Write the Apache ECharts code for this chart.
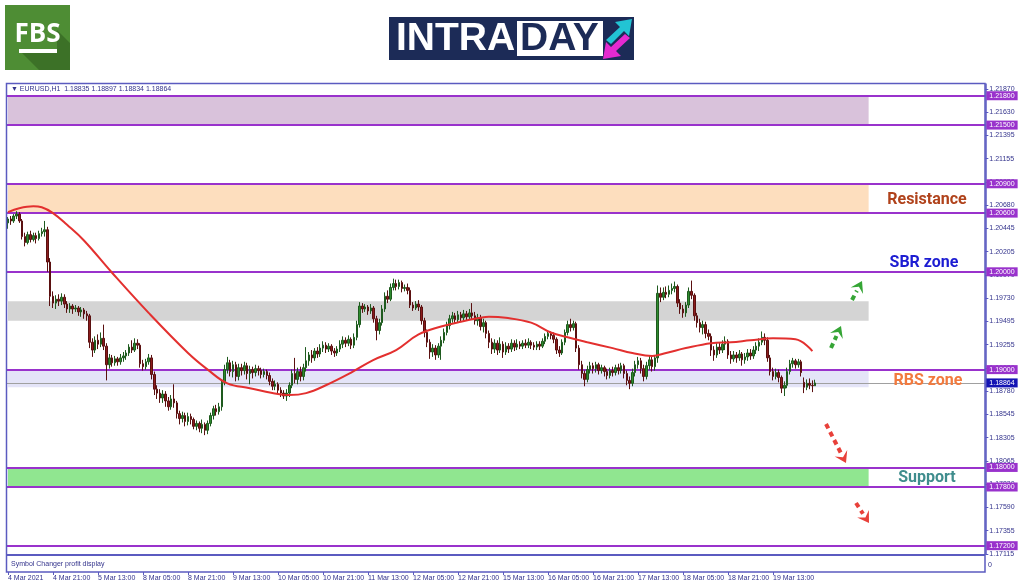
<!DOCTYPE html>
<html>
<head>
<meta charset="utf-8">
<title>EURUSD H1 intraday</title>
<script src="https://cdn.jsdelivr.net/npm/echarts@6/dist/echarts.min.js"></script>
<style>
  html, body { margin: 0; padding: 0; background: #fff; }
  #chart { width: 1024px; height: 587px; }
</style>
</head>
<body>
<div id="chart"></div>
<script>
// EURUSD H1, 4 Mar 05:00 .. 22 Mar 04:00
var opens = [
  1.2050,1.2054,1.2052,1.2057,1.2059,1.2052,1.2036,1.2030,1.2038,1.2033,1.2037,1.2034,
  1.2039,1.2041,1.2043,1.2010,1.1975,1.1968,1.1972,1.1970,1.1974,1.1967,1.1962,1.1965,
  1.1962,1.1963,1.1959,1.1961,1.1957,1.1955,1.1928,1.1920,1.1930,1.1926,1.1932,1.1924,
  1.1905,1.1912,1.1907,1.1911,1.1908,1.1912,1.1914,1.1917,1.1923,1.1920,1.1927,1.1925,
  1.1906,1.1903,1.1908,1.1912,1.1895,1.1880,1.1876,1.1871,1.1875,1.1868,1.1862,1.1870,
  1.1866,1.1855,1.1850,1.1853,1.1847,1.1852,1.1849,1.1842,1.1845,1.1840,1.1844,1.1838,
  1.1845,1.1853,1.1860,1.1857,1.1862,1.1887,1.1900,1.1907,1.1898,1.1905,1.1893,1.1902,
  1.1899,1.1904,1.1896,1.1900,1.1897,1.1901,1.1899,1.1895,1.1898,1.1894,1.1888,1.1883,
  1.1885,1.1879,1.1876,1.1873,1.1876,1.1884,1.1896,1.1890,1.1898,1.1893,1.1902,1.1909,
  1.1915,1.1912,1.1919,1.1916,1.1922,1.1925,1.1921,1.1924,1.1919,1.1917,1.1921,1.1926,
  1.1930,1.1927,1.1931,1.1925,1.1933,1.1946,1.1965,1.1962,1.1964,1.1960,1.1963,1.1952,
  1.1940,1.1948,1.1962,1.1975,1.1972,1.1984,1.1988,1.1985,1.1989,1.1983,1.1984,1.1981,
  1.1966,1.1963,1.1967,1.1964,1.1950,1.1938,1.1928,1.1918,1.1922,1.1915,1.1924,1.1930,
  1.1938,1.1945,1.1952,1.1955,1.1951,1.1956,1.1953,1.1957,1.1954,1.1958,1.1955,1.1950,
  1.1953,1.1944,1.1948,1.1937,1.1928,1.1921,1.1927,1.1920,1.1926,1.1918,1.1924,1.1921,
  1.1927,1.1923,1.1926,1.1924,1.1927,1.1925,1.1928,1.1925,1.1923,1.1926,1.1924,1.1929,
  1.1934,1.1937,1.1935,1.1931,1.1920,1.1917,1.1928,1.1938,1.1946,1.1943,1.1947,1.1922,
  1.1905,1.1896,1.1890,1.1900,1.1904,1.1901,1.1905,1.1899,1.1902,1.1898,1.1894,1.1899,
  1.1897,1.1902,1.1899,1.1904,1.1896,1.1889,1.1886,1.1897,1.1905,1.1909,1.1901,1.1893,
  1.1904,1.1910,1.1903,1.1912,1.1978,1.1974,1.1979,1.1977,1.1981,1.1983,1.1985,1.1968,
  1.1962,1.1958,1.1966,1.1980,1.1976,1.1955,1.1948,1.1943,1.1946,1.1937,1.1934,1.1920,
  1.1915,1.1923,1.1920,1.1926,1.1929,1.1915,1.1911,1.1915,1.1912,1.1916,1.1910,1.1913,
  1.1917,1.1914,1.1920,1.1924,1.1928,1.1933,1.1930,1.1912,1.1898,1.1893,1.1897,1.1892,
  1.1881,1.1884,1.1898,1.1906,1.1909,1.1905,1.1908,1.1887,1.1882,1.1886,1.1884,1.18835
];
var highs = [
  1.2056,1.2057,1.2059,1.2062,1.2061,1.2054,1.2040,1.2041,1.2042,1.2040,1.2040,1.2042,
  1.2045,1.2052,1.2046,1.2014,1.1980,1.1976,1.1977,1.1978,1.1977,1.1970,1.1968,1.1967,
  1.1966,1.1965,1.1964,1.1963,1.1960,1.1957,1.1932,1.1934,1.1936,1.1938,1.1946,1.1927,
  1.1916,1.1915,1.1914,1.1913,1.1916,1.1918,1.1920,1.1926,1.1930,1.1932,1.1931,1.1927,
  1.1910,1.1911,1.1916,1.1915,1.1898,1.1884,1.1880,1.1879,1.1878,1.1872,1.1874,1.1885,
  1.1868,1.1858,1.1857,1.1856,1.1856,1.1855,1.1851,1.1848,1.1847,1.1849,1.1846,1.1848,
  1.1856,1.1863,1.1864,1.1866,1.1890,1.1905,1.1913,1.1910,1.1909,1.1908,1.1906,1.1906,
  1.1908,1.1907,1.1904,1.1903,1.1905,1.1904,1.1902,1.1901,1.1900,1.1897,1.1891,1.1889,
  1.1887,1.1882,1.1879,1.1880,1.1887,1.1900,1.1912,1.1902,1.1903,1.1906,1.1923,1.1918,
  1.1920,1.1922,1.1923,1.1926,1.1929,1.1928,1.1927,1.1926,1.1922,1.1924,1.1930,1.1934,
  1.1933,1.1935,1.1933,1.1937,1.1950,1.1969,1.1968,1.1967,1.1966,1.1967,1.1965,1.1955,
  1.1952,1.1966,1.1979,1.1981,1.1988,1.1993,1.1992,1.1992,1.1991,1.1987,1.1988,1.1984,
  1.1969,1.1970,1.1971,1.1966,1.1953,1.1941,1.1931,1.1926,1.1925,1.1927,1.1934,1.1942,
  1.1949,1.1956,1.1959,1.1958,1.1960,1.1959,1.1961,1.1960,1.1962,1.1968,1.1959,1.1957,
  1.1956,1.1952,1.1950,1.1940,1.1932,1.1931,1.1930,1.1933,1.1929,1.1928,1.1927,1.1931,
  1.1930,1.1931,1.1929,1.1930,1.1931,1.1932,1.1930,1.1928,1.1929,1.1929,1.1932,1.1937,
  1.1940,1.1939,1.1938,1.1933,1.1924,1.1931,1.1941,1.1950,1.1952,1.1950,1.1949,1.1925,
  1.1909,1.1899,1.1904,1.1908,1.1907,1.1908,1.1907,1.1905,1.1904,1.1901,1.1902,1.1903,
  1.1905,1.1906,1.1907,1.1906,1.1899,1.1893,1.1901,1.1909,1.1913,1.1912,1.1905,1.1908,
  1.1914,1.1913,1.1914,1.1986,1.1984,1.1984,1.1985,1.1986,1.1988,1.1990,1.1987,1.1972,
  1.1966,1.1969,1.1984,1.1991,1.1978,1.1958,1.1952,1.1950,1.1949,1.1941,1.1937,1.1924,
  1.1927,1.1928,1.1930,1.1934,1.1931,1.1919,1.1919,1.1918,1.1920,1.1918,1.1917,1.1921,
  1.1921,1.1924,1.1928,1.1932,1.1939,1.1937,1.1933,1.1915,1.1902,1.1901,1.1900,1.1894,
  1.1888,1.1902,1.1910,1.1912,1.1911,1.1911,1.1910,1.1892,1.1890,1.1891,1.1889,1.18897
];
var lows = [
  1.2044,1.2048,1.2050,1.2054,1.2050,1.2033,1.2026,1.2028,1.2030,1.2031,1.2029,1.2032,
  1.2036,1.2036,1.2000,1.1965,1.1963,1.1962,1.1965,1.1966,1.1963,1.1958,1.1958,1.1957,
  1.1959,1.1955,1.1954,1.1952,1.1950,1.1922,1.1913,1.1917,1.1921,1.1923,1.1920,1.1889,
  1.1901,1.1903,1.1904,1.1904,1.1905,1.1908,1.1910,1.1914,1.1917,1.1918,1.1921,1.1902,
  1.1899,1.1900,1.1905,1.1890,1.1874,1.1870,1.1866,1.1866,1.1862,1.1858,1.1859,1.1861,
  1.1850,1.1844,1.1846,1.1842,1.1843,1.1844,1.1839,1.1838,1.1836,1.1835,1.1833,1.1834,
  1.1842,1.1849,1.1853,1.1854,1.1858,1.1884,1.1896,1.1893,1.1892,1.1888,1.1889,1.1894,
  1.1895,1.1890,1.1885,1.1891,1.1893,1.1894,1.1891,1.1892,1.1890,1.1884,1.1879,1.1879,
  1.1875,1.1872,1.1870,1.1868,1.1872,1.1881,1.1886,1.1885,1.1888,1.1889,1.1898,1.1904,
  1.1907,1.1909,1.1912,1.1913,1.1918,1.1917,1.1918,1.1915,1.1913,1.1914,1.1918,1.1922,
  1.1923,1.1924,1.1921,1.1922,1.1930,1.1943,1.1958,1.1959,1.1956,1.1957,1.1948,1.1930,
  1.1936,1.1945,1.1959,1.1968,1.1970,1.1981,1.1981,1.1982,1.1979,1.1980,1.1977,1.1963,
  1.1960,1.1961,1.1960,1.1946,1.1933,1.1923,1.1911,1.1913,1.1910,1.1912,1.1910,1.1927,
  1.1935,1.1941,1.1948,1.1947,1.1948,1.1949,1.1950,1.1950,1.1951,1.1951,1.1946,1.1945,
  1.1940,1.1938,1.1932,1.1922,1.1916,1.1917,1.1915,1.1917,1.1912,1.1915,1.1917,1.1918,
  1.1919,1.1920,1.1921,1.1921,1.1922,1.1922,1.1921,1.1920,1.1920,1.1920,1.1922,1.1926,
  1.1931,1.1931,1.1927,1.1916,1.1913,1.1915,1.1925,1.1935,1.1939,1.1940,1.1918,1.1900,
  1.1891,1.1883,1.1887,1.1896,1.1896,1.1897,1.1895,1.1896,1.1893,1.1890,1.1891,1.1893,
  1.1894,1.1895,1.1896,1.1891,1.1884,1.1880,1.1883,1.1893,1.1901,1.1896,1.1888,1.1890,
  1.1900,1.1898,1.1899,1.1907,1.1969,1.1971,1.1973,1.1974,1.1977,1.1979,1.1964,1.1957,
  1.1953,1.1954,1.1963,1.1972,1.1950,1.1943,1.1938,1.1936,1.1932,1.1930,1.1914,1.1909,
  1.1912,1.1916,1.1917,1.1920,1.1911,1.1906,1.1908,1.1907,1.1909,1.1904,1.1906,1.1909,
  1.1910,1.1911,1.1916,1.1919,1.1925,1.1925,1.1908,1.1894,1.1889,1.1890,1.1887,1.1876,
  1.1873,1.1881,1.1895,1.1902,1.1901,1.1902,1.1893,1.1876,1.1879,1.1880,1.1877,1.18834
];
var closes = [
  1.2054,1.2052,1.2057,1.2059,1.2052,1.2036,1.2030,1.2038,1.2033,1.2037,1.2034,1.2039,
  1.2041,1.2043,1.2010,1.1975,1.1968,1.1972,1.1970,1.1974,1.1967,1.1962,1.1965,1.1962,
  1.1963,1.1959,1.1961,1.1957,1.1955,1.1928,1.1920,1.1930,1.1926,1.1932,1.1924,1.1905,
  1.1912,1.1907,1.1911,1.1908,1.1912,1.1914,1.1917,1.1923,1.1920,1.1927,1.1925,1.1906,
  1.1903,1.1908,1.1912,1.1895,1.1880,1.1876,1.1871,1.1875,1.1868,1.1862,1.1870,1.1866,
  1.1855,1.1850,1.1853,1.1847,1.1852,1.1849,1.1842,1.1845,1.1840,1.1844,1.1838,1.1845,
  1.1853,1.1860,1.1857,1.1862,1.1887,1.1900,1.1907,1.1898,1.1905,1.1893,1.1902,1.1899,
  1.1904,1.1896,1.1900,1.1897,1.1901,1.1899,1.1895,1.1898,1.1894,1.1888,1.1883,1.1885,
  1.1879,1.1876,1.1873,1.1876,1.1884,1.1896,1.1890,1.1898,1.1893,1.1902,1.1909,1.1915,
  1.1912,1.1919,1.1916,1.1922,1.1925,1.1921,1.1924,1.1919,1.1917,1.1921,1.1926,1.1930,
  1.1927,1.1931,1.1925,1.1933,1.1946,1.1965,1.1962,1.1964,1.1960,1.1963,1.1952,1.1940,
  1.1948,1.1962,1.1975,1.1972,1.1984,1.1988,1.1985,1.1989,1.1983,1.1984,1.1981,1.1966,
  1.1963,1.1967,1.1964,1.1950,1.1938,1.1928,1.1918,1.1922,1.1915,1.1924,1.1930,1.1938,
  1.1945,1.1952,1.1955,1.1951,1.1956,1.1953,1.1957,1.1954,1.1958,1.1955,1.1950,1.1953,
  1.1944,1.1948,1.1937,1.1928,1.1921,1.1927,1.1920,1.1926,1.1918,1.1924,1.1921,1.1927,
  1.1923,1.1926,1.1924,1.1927,1.1925,1.1928,1.1925,1.1923,1.1926,1.1924,1.1929,1.1934,
  1.1937,1.1935,1.1931,1.1920,1.1917,1.1928,1.1938,1.1946,1.1943,1.1947,1.1922,1.1905,
  1.1896,1.1890,1.1900,1.1904,1.1901,1.1905,1.1899,1.1902,1.1898,1.1894,1.1899,1.1897,
  1.1902,1.1899,1.1904,1.1896,1.1889,1.1886,1.1897,1.1905,1.1909,1.1901,1.1893,1.1904,
  1.1910,1.1903,1.1912,1.1978,1.1974,1.1979,1.1977,1.1981,1.1983,1.1985,1.1968,1.1962,
  1.1958,1.1966,1.1980,1.1976,1.1955,1.1948,1.1943,1.1946,1.1937,1.1934,1.1920,1.1915,
  1.1923,1.1920,1.1926,1.1929,1.1915,1.1911,1.1915,1.1912,1.1916,1.1910,1.1913,1.1917,
  1.1914,1.1920,1.1924,1.1928,1.1933,1.1930,1.1912,1.1898,1.1893,1.1897,1.1892,1.1881,
  1.1884,1.1898,1.1906,1.1909,1.1905,1.1908,1.1897,1.1882,1.1886,1.1884,1.18835,1.18864
];

// moving average (red line), read at a few bars
var maBars = [0, 4, 9, 12, 16, 21, 27, 37, 50, 64, 71, 78, 86, 94, 100, 106, 113, 122, 130, 138,
  146, 154, 161, 168, 171, 177, 186, 193, 199, 206, 215, 222, 229, 234, 241, 250, 257, 264, 272, 280, 286];
var maValues = [1.2061, 1.2065, 1.2067, 1.2066, 1.2060, 1.2048, 1.2032, 1.1999, 1.1958, 1.1917,
  1.1900, 1.1886, 1.1881, 1.1876, 1.1874, 1.1876, 1.1884, 1.1897, 1.1910, 1.1920, 1.1936, 1.1944,
  1.1949, 1.1953, 1.1954, 1.1953, 1.1948, 1.1938, 1.1933, 1.1928, 1.1922, 1.1917, 1.1914, 1.1917,
  1.1922, 1.1927, 1.1928, 1.1930, 1.1932, 1.1931, 1.1919];

var timeLabels = ['4 Mar 2021', '4 Mar 21:00', '5 Mar 13:00', '8 Mar 05:00', '8 Mar 21:00',
  '9 Mar 13:00', '10 Mar 05:00', '10 Mar 21:00', '11 Mar 13:00', '12 Mar 05:00', '12 Mar 21:00',
  '15 Mar 13:00', '16 Mar 05:00', '16 Mar 21:00', '17 Mar 13:00', '18 Mar 05:00', '18 Mar 21:00',
  '19 Mar 13:00'];
var yTickLabels = ['1.17115', '1.17355', '1.17590', '1.17830', '1.18065', '1.18305', '1.18545',
  '1.18780', '1.19020', '1.19255', '1.19495', '1.19730', '1.19970', '1.20205', '1.20445',
  '1.20680', '1.20920', '1.21155', '1.21395', '1.21630', '1.21870'];

// zones: [top, bottom]
var topZone = [1.2180, 1.2150];
var resistanceZone = [1.2090, 1.2060];
var grayZone = [1.1970, 1.1950];
var rbsZone = [1.1900, 1.1882];
var supportZone = [1.1800, 1.1780];
var levelLines = [1.2180, 1.2150, 1.2090, 1.2060, 1.2000, 1.1900, 1.1800, 1.1780, 1.1720];
var lastPrice = 1.18864;

var yMin = 1.17115, yMax = 1.2192, yStep = 0.0023775;
var slotCount = 348, zoneEnd = 306, labelEvery = 16;

var cats = [];
for (var i = 0; i < slotCount; i++) cats.push(String(i));
var candles = opens.map(function (o, i) { return [o, closes[i], lows[i], highs[i]]; });
var maData = maBars.map(function (b, i) { return [b, maValues[i]]; });

var frameColor = '#5b5bc0';
var textColor = '#33338c';
var purple = '#9932cc';

function zone(z, color) {
  return [{ yAxis: z[0], xAxis: 0, itemStyle: { color: color } }, { yAxis: z[1], xAxis: zoneEnd }];
}
function showTime(i) { return i % labelEvery === 0 && i / labelEvery < timeLabels.length; }

function arrow(x1, y1, x2, y2, color) {
  var ang = Math.atan2(y2 - y1, x2 - x1);
  var hl = 11, hw = 7;
  var bx = x2 - Math.cos(ang) * hl, by = y2 - Math.sin(ang) * hl;
  var nx = -Math.sin(ang), ny = Math.cos(ang);
  var mx = x2 - Math.cos(ang) * hl * 0.6, my = y2 - Math.sin(ang) * hl * 0.6;
  return [
    { type: 'line', shape: { x1: x1, y1: y1, x2: bx, y2: by },
      style: { stroke: color, lineWidth: 4, lineDash: [5, 4] }, z: 20 },
    { type: 'polygon', shape: { points: [[x2, y2], [bx + nx * hw, by + ny * hw], [mx, my], [bx - nx * hw, by - ny * hw]] },
      style: { fill: color }, z: 20 }
  ];
}

var chart = echarts.init(document.getElementById('chart'));
var graphics = [
  // FBS logo
  { type: 'rect', shape: { x: 5, y: 5, width: 65, height: 65 }, style: { fill: '#4e8d34' } },
  { type: 'polygon', shape: { points: [[19, 50], [57, 50], [57, 30], [70, 43], [70, 70], [39, 70]] },
    style: { fill: '#3c7127' } },
  { type: 'text', style: { text: 'FBS', x: 37.5, y: 35, fill: '#fff', font: 'bold 26px "Open Sans"',
    align: 'center', verticalAlign: 'middle' } },
  { type: 'rect', shape: { x: 19, y: 49, width: 38, height: 4 }, style: { fill: '#fff' } },
  // INTRADAY logo
  { type: 'rect', shape: { x: 389, y: 17, width: 245, height: 43 }, style: { fill: '#1c2b57' } },
  { type: 'text', style: { text: 'INTRA', x: 396, y: 39, fill: '#fff', font: 'bold 39px "Liberation Sans"',
    verticalAlign: 'middle' } },
  { type: 'rect', shape: { x: 517, y: 21, width: 86, height: 35 }, style: { fill: '#fff' } },
  { type: 'text', style: { text: 'DAY', x: 520, y: 39, fill: '#1c2b57', font: 'bold 39px "Liberation Sans"',
    verticalAlign: 'middle' } },
  { type: 'polygon', shape: { points: [[606, 40], [620, 27], [615, 22], [632, 19], [629, 36], [624, 31], [611, 44]] },
    style: { fill: '#22c4d4' } },
  { type: 'polygon', shape: { points: [[630, 38], [616, 51], [621, 56], [603, 59], [606, 42], [611, 47], [625, 34]] },
    style: { fill: '#e52ad0' } },
  // chart window frame
  { type: 'rect', shape: { x: 6.5, y: 83.5, width: 978.5, height: 488.5 },
    style: { fill: null, stroke: frameColor, lineWidth: 1.5 }, z: 10 },
  { type: 'line', shape: { x1: 6.5, y1: 555, x2: 985, y2: 555 }, style: { stroke: frameColor, lineWidth: 2 }, z: 10 },
  { type: 'text', style: { text: '\u25BC EURUSD,H1  1.18835 1.18897 1.18834 1.18864', x: 11, y: 89.5,
    fill: textColor, font: '7px "Liberation Sans"', verticalAlign: 'middle' }, z: 10 },
  { type: 'text', style: { text: 'Symbol Changer profit display', x: 11, y: 564.5,
    fill: textColor, font: '7px "Liberation Sans"', verticalAlign: 'middle' }, z: 10 },
  { type: 'text', style: { text: '0', x: 988, y: 565, fill: textColor, font: '7px "Liberation Sans"',
    verticalAlign: 'middle' }, z: 10 },
  // zone captions
  { type: 'text', style: { text: 'Resistance', x: 927, y: 200, fill: '#b0421b', font: 'bold 16px Roboto',
    align: 'center', verticalAlign: 'middle' }, z: 20 },
  { type: 'text', style: { text: 'SBR zone', x: 924, y: 263, fill: '#1c1cd2', font: 'bold 16px Roboto',
    align: 'center', verticalAlign: 'middle' }, z: 20 },
  { type: 'text', style: { text: 'RBS zone', x: 928, y: 381, fill: '#f27a3e', font: 'bold 16px Roboto',
    align: 'center', verticalAlign: 'middle' }, z: 20 },
  { type: 'text', style: { text: 'Support', x: 927, y: 478, fill: '#3f8d8d', font: 'bold 16px Roboto',
    align: 'center', verticalAlign: 'middle' }, z: 20 }
]
  .concat(arrow(831, 348, 841, 326, '#35a535'))
  .concat(arrow(852, 300, 862, 281, '#35a535'))
  .concat(arrow(826, 424, 846, 463, '#e8403a'))
  .concat(arrow(856, 503, 869, 523, '#e8403a'));

var option = {
  animation: false,
  backgroundColor: '#fff',
  grid: { left: 6.59375, right: 38.65625, top: 84, bottom: 33 },
  xAxis: {
    type: 'category',
    data: cats,
    offset: 18,
    axisLine: { show: false },
    axisTick: { show: true, alignWithLabel: true, interval: showTime, length: 3,
      lineStyle: { color: frameColor } },
    axisLabel: {
      interval: showTime,
      formatter: function (v, i) { return timeLabels[i / labelEvery]; },
      align: 'left', margin: 3, fontSize: 7, color: textColor, fontFamily: 'Liberation Sans'
    },
    splitLine: { show: false }
  },
  yAxis: {
    type: 'value',
    position: 'right',
    min: yMin, max: yMax, interval: yStep,
    axisLine: { show: true, lineStyle: { color: frameColor, width: 1.5 } },
    axisTick: { show: true, length: 3, lineStyle: { color: frameColor } },
    axisLabel: {
      margin: 4, fontSize: 7, color: textColor, fontFamily: 'Liberation Sans', showMaxLabel: false,
      formatter: function (v) {
        var k = Math.round((v - yMin) / yStep);
        if (Math.abs(yMin + k * yStep - v) > yStep / 10) return '';
        return yTickLabels[k] || '';
      }
    },
    splitLine: { show: false }
  },
  series: [
    {
      type: 'line', data: [], z: 1, silent: true,
      markArea: {
        silent: true,
        data: [
          zone(topZone, '#d9c2db'),
          zone(resistanceZone, '#fddebe'),
          zone(grayZone, '#d4d4d4'),
          zone(rbsZone, '#e4e4f8'),
          zone(supportZone, '#90e690')
        ]
      }
    },
    {
      type: 'line', data: [], z: 3, silent: true,
      markLine: {
        silent: true, symbol: 'none', precision: 5,
        label: {
          position: 'end', distance: 1, color: '#fff', fontSize: 7, fontFamily: 'Liberation Sans',
          padding: [1, 3, 1, 3], backgroundColor: purple,
          formatter: function (p) { return Number(p.value).toFixed(5); }
        },
        lineStyle: { color: purple, width: 2, type: 'solid' },
        data: levelLines.map(function (v) { return { yAxis: v }; }).concat([{
          yAxis: lastPrice,
          lineStyle: { color: '#a0a0a0', width: 1, type: 'solid' },
          label: { backgroundColor: '#1414b4' }
        }])
      }
    },
    {
      type: 'candlestick', z: 5,
      data: candles,
      barWidth: 2,
      itemStyle: {
        color: '#2e8b2e', color0: '#8b1c1c',
        borderColor: '#1e5a1e', borderColor0: '#5a1010', borderWidth: 1
      }
    },
    {
      type: 'line', z: 6, data: maData, smooth: 0.4, symbol: 'none',
      lineStyle: { color: '#e3302f', width: 2 }
    }
  ],
  graphic: graphics
};
chart.setOption(option);
</script>
</body>
</html>
